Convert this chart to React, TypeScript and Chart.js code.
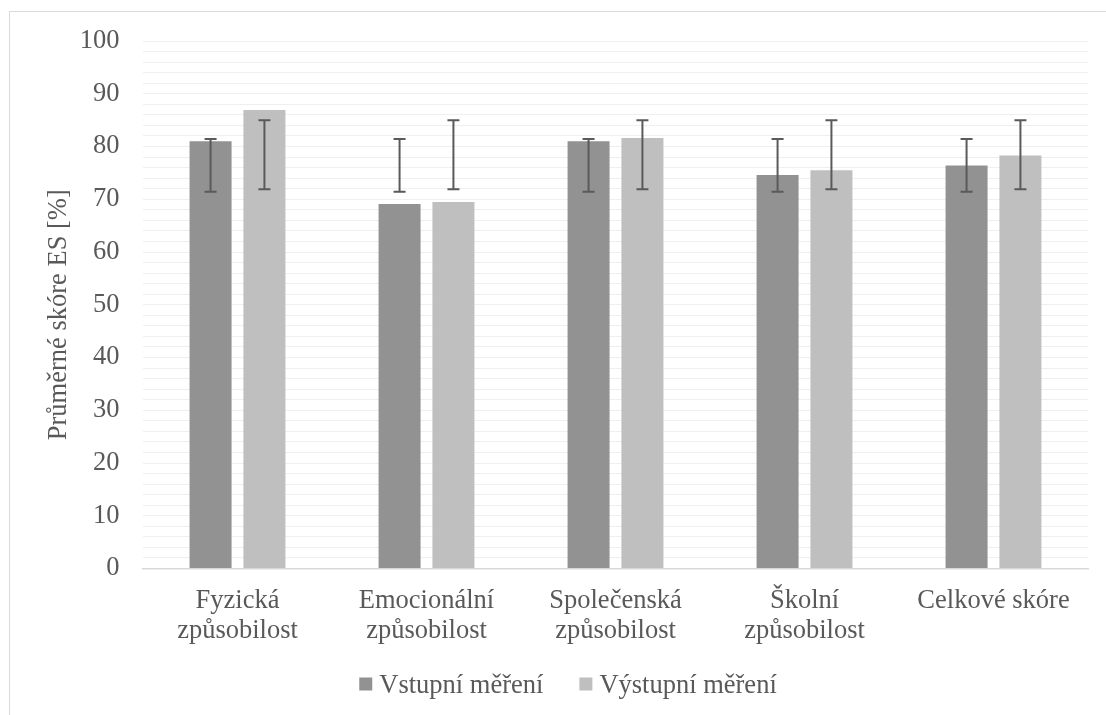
import React, { useEffect, useRef } from "react";
import { Chart, registerables } from "chart.js";

Chart.register(...registerables);

const CATEGORIES: (string | string[])[] = [
  ["Fyzická", "způsobilost"],
  ["Emocionální", "způsobilost"],
  ["Společenská", "způsobilost"],
  ["Školní", "způsobilost"],
  "Celkové skóre",
];
const SERIES_NAMES = ["Vstupní měření", "Výstupní měření"];
const VSTUPNI = [81.0, 69.1, 81.0, 74.6, 76.4];
const VYSTUPNI = [86.9, 69.5, 81.6, 75.5, 78.3];
const VSTUPNI_ERR_LOW = [71.4, 71.4, 71.4, 71.4, 71.4];
const VSTUPNI_ERR_HIGH = [81.4, 81.4, 81.4, 81.4, 81.4];
const VYSTUPNI_ERR_LOW = [71.9, 71.9, 71.9, 71.9, 71.9];
const VYSTUPNI_ERR_HIGH = [85.0, 85.0, 85.0, 85.0, 85.0];
const Y_MIN = 0;
const Y_MAX = 100;
const Y_STEP = 2;
const Y_LABEL_STEP = 10;
const Y_TITLE = "Průměrné skóre ES [%]";

const COLORS = ["#929292", "#bfbfbf"];
const TEXT = "#595959";
const FONT_FAMILY = '"Liberation Serif", "Times New Roman", serif';
const FONT_SIZE = 26.5;

const ERR_LOW = [VSTUPNI_ERR_LOW, VYSTUPNI_ERR_LOW];
const ERR_HIGH = [VSTUPNI_ERR_HIGH, VYSTUPNI_ERR_HIGH];

const errorBarPlugin = {
  id: "errorBars",
  afterDatasetsDraw(chart: any) {
    const ctx = chart.ctx;
    const yScale = chart.scales.y;
    ctx.save();
    ctx.strokeStyle = "#5a5a5a";
    ctx.lineWidth = 2;
    chart.data.datasets.forEach((_ds: any, di: number) => {
      const meta = chart.getDatasetMeta(di);
      meta.data.forEach((bar: any, i: number) => {
        const x = bar.x;
        const yl = yScale.getPixelForValue(ERR_LOW[di][i]);
        const yh = yScale.getPixelForValue(ERR_HIGH[di][i]);
        ctx.beginPath();
        ctx.moveTo(x, yl);
        ctx.lineTo(x, yh);
        ctx.moveTo(x - 6, yl);
        ctx.lineTo(x + 6, yl);
        ctx.moveTo(x - 6, yh);
        ctx.lineTo(x + 6, yh);
        ctx.stroke();
      });
    });
    ctx.restore();
  },
};

const extrasPlugin = {
  id: "extras",
  afterDraw(chart: any) {
    const ctx = chart.ctx;
    const area = chart.chartArea;
    ctx.save();
    ctx.font = `${FONT_SIZE}px ${FONT_FAMILY}`;
    ctx.fillStyle = TEXT;
    // y-axis title
    ctx.save();
    ctx.translate(59, (area.top + area.bottom) / 2 + 10);
    ctx.rotate(-Math.PI / 2);
    ctx.textAlign = "center";
    ctx.textBaseline = "middle";
    ctx.fillText(Y_TITLE, 0, 0);
    ctx.restore();
    // legend
    const box = 13;
    const gap = 7;
    const itemGap = 36;
    const widths = chart.data.datasets.map((d: any) => ctx.measureText(d.label).width);
    const total = widths.reduce((a: number, w: number) => a + box + gap + w, 0) + itemGap * (widths.length - 1);
    let x = 568 - total / 2;
    const baseline = 693;
    ctx.textAlign = "left";
    ctx.textBaseline = "alphabetic";
    chart.data.datasets.forEach((d: any, i: number) => {
      ctx.fillStyle = d.backgroundColor;
      ctx.fillRect(x, baseline - 15.5, box, box);
      x += box + gap;
      ctx.fillStyle = TEXT;
      ctx.fillText(d.label, x, baseline);
      x += widths[i] + itemGap;
    });
    ctx.restore();
  },
};

export default function App() {
  const canvasRef = useRef<HTMLCanvasElement | null>(null);

  useEffect(() => {
    if (!canvasRef.current) return;
    const chart = new Chart(canvasRef.current, {
      type: "bar",
      data: {
        labels: CATEGORIES,
        datasets: [
          {
            label: SERIES_NAMES[0],
            data: VSTUPNI,
            backgroundColor: COLORS[0],
            borderWidth: 0,
            categoryPercentage: 0.57,
            barPercentage: 0.78,
          },
          {
            label: SERIES_NAMES[1],
            data: VYSTUPNI,
            backgroundColor: COLORS[1],
            borderWidth: 0,
            categoryPercentage: 0.57,
            barPercentage: 0.78,
          },
        ],
      },
      options: {
        animation: false,
        responsive: false,
        maintainAspectRatio: false,
        layout: { padding: { top: 41, right: 18, left: 0, bottom: 0 } },
        plugins: {
          legend: { display: false },
          tooltip: { enabled: false },
          title: { display: false },
        },
        scales: {
          x: {
            grid: { display: false, drawTicks: false },
            border: { display: true, color: "#d9d9d9", width: 1.5 },
            ticks: {
              color: TEXT,
              font: { family: FONT_FAMILY, size: FONT_SIZE, lineHeight: 1.13 },
              padding: 18,
              maxRotation: 0,
              autoSkip: false,
            },
            afterFit: (s: any) => {
              s.height = 146.5;
            },
          },
          y: {
            min: Y_MIN,
            max: Y_MAX,
            grid: { color: "#efefef", lineWidth: 1, drawTicks: false },
            border: { display: false },
            ticks: {
              stepSize: Y_STEP,
              maxTicksLimit: 100,
              autoSkip: false,
              color: TEXT,
              padding: 23.5,
              font: { family: FONT_FAMILY, size: FONT_SIZE },
              callback: (v: any) => (Number(v) % Y_LABEL_STEP === 0 ? String(v) : ""),
            },
            afterFit: (s: any) => {
              s.width = 143;
            },
          },
        },
      },
      plugins: [errorBarPlugin, extrasPlugin],
    });
    return () => chart.destroy();
  }, []);

  return (
    <div
      style={{
        position: "fixed",
        left: 0,
        top: 0,
        width: 1106,
        height: 715,
        overflow: "hidden",
        background: "#ffffff",
      }}
    >
      <div
        style={{
          position: "absolute",
          left: 9,
          top: 11,
          width: 1200,
          height: 800,
          border: "1px solid #d9d9d9",
          boxSizing: "border-box",
        }}
      />
      <canvas
        ref={canvasRef}
        width={1106}
        height={715}
        style={{ position: "absolute", left: 0, top: 0, width: 1106, height: 715 }}
      />
    </div>
  );
}
